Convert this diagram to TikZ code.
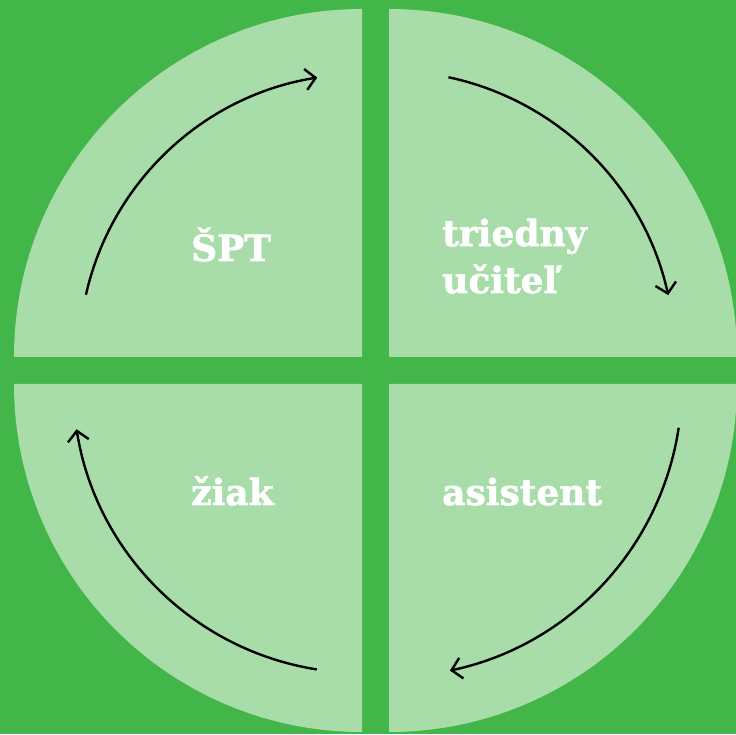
\documentclass[tikz,border=0pt]{standalone}
\usepackage{fontspec}
\setmainfont{DejaVu Serif}
\newfontfamily\rolefont{DejaVu Serif Bold}[FakeBold=1.6]
\usetikzlibrary{arrows.meta}
\definecolor{bggreen}{HTML}{43B649}
\definecolor{lightgreen}{HTML}{A8DDA9}
\begin{document}
\begin{tikzpicture}[x=1pt, y=1pt,
		quarter/.style={fill=lightgreen},
		cyclearrow/.style={-{Straight Barb[length=10pt, width=21pt]}, line width=2.4pt},
		roletext/.style={anchor=base west, text=white, inner sep=0pt, align=left,
			font=\rolefont\fontsize{36}{47}\selectfont}]
						\fill [bggreen] (0, 0) rectangle (736, 734);
						\useasboundingbox (0, 0) rectangle (736, 734);
						\fill [quarter] (362, 377) -- ++(180:348) arc [start angle=180, end angle=90, radius=348] -- cycle;
						\fill [quarter] (389, 377) -- ++(90:348) arc [start angle=90, end angle=0, radius=348] -- cycle;
						\fill [quarter] (389, 350) -- ++(0:348) arc [start angle=0, end angle=-90, radius=348] -- cycle;
						\fill [quarter] (362, 350) -- ++(-90:348) arc [start angle=-90, end angle=-180, radius=348] -- cycle;
						\draw [cyclearrow] (362, 377) ++(167.3:283) arc [start angle=167.3, end angle=99.1, radius=283];
						\draw [cyclearrow] (389, 377) ++(78:286) arc [start angle=78, end angle=12.5, radius=286];
						\draw [cyclearrow] (389, 350) ++(-8.6:293) arc [start angle=-8.6, end angle=-78, radius=293];
						\draw [cyclearrow] (362, 350) ++(261:289) arc [start angle=261, end angle=189, radius=289];
						\node (spt) [roletext] at (191, 473) {ŠPT};
						\node (ucitel) [roletext] at (442, 441) {triedny\\učiteľ};
						\node (ziak) [roletext] at (191, 229) {žiak};
						\node (asistent) [roletext] at (442, 229) {asistent};
					\end{tikzpicture}
\end{document}
